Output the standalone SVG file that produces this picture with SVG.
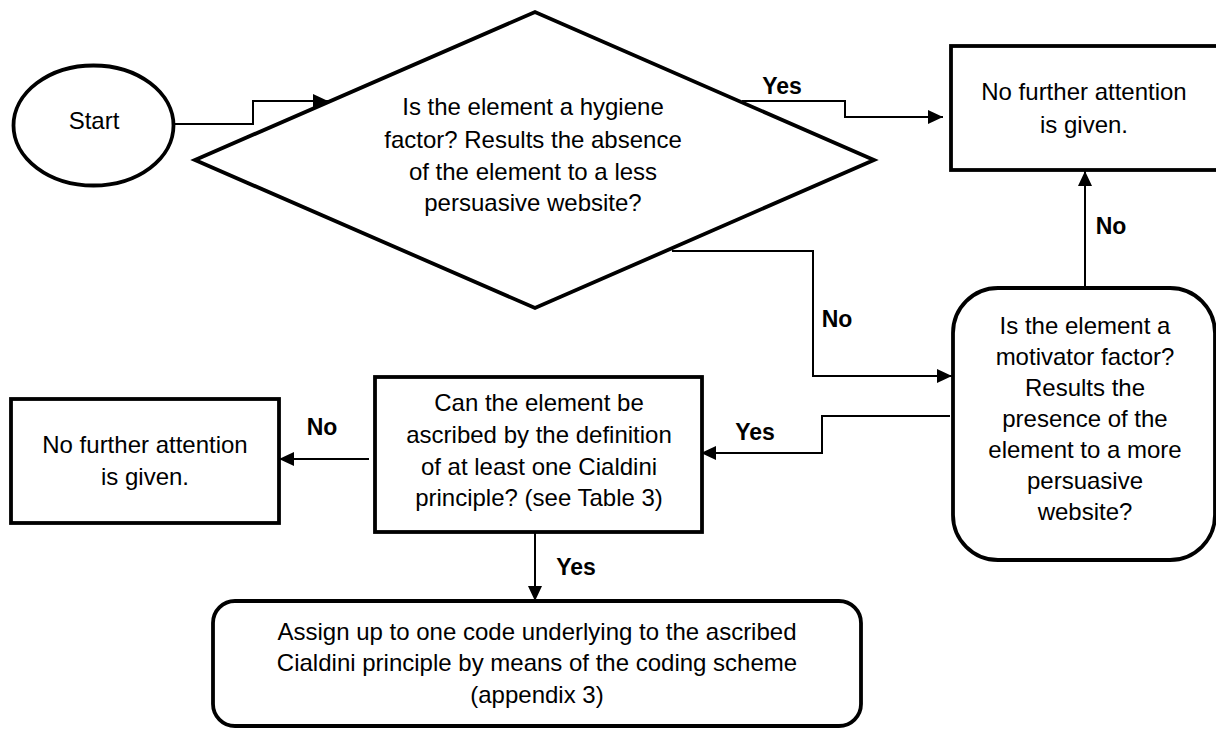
<svg xmlns="http://www.w3.org/2000/svg" width="1216" height="729" viewBox="0 0 1216 729">
<style>
.shape{fill:#fff;stroke:#000;stroke-width:3.8}
.conn{fill:none;stroke:#000;stroke-width:2}
.t{font-family:"Liberation Sans",Arial,sans-serif;font-size:24px;fill:#000;text-anchor:middle}
.lbl{font-family:"Liberation Sans",Arial,sans-serif;font-size:23px;font-weight:bold;fill:#000;text-anchor:middle}
</style>
<defs>
<marker id="arr" markerUnits="userSpaceOnUse" markerWidth="15" markerHeight="14" refX="15" refY="7" orient="auto">
<path d="M0,0 L15,7 L0,14 z" fill="#000"/>
</marker>
</defs>
<rect width="1216" height="729" fill="#fff"/>
<g id="start">
<ellipse class="shape" cx="93.5" cy="125.5" rx="80" ry="60"/>
<text class="t" x="94" y="129">Start</text>
</g>
<g id="hygiene">
<polygon class="shape" points="195,160 535,12 874,160 535,308"/>
<text class="t" x="533" y="115">Is the element a hygiene</text>
<text class="t" x="533" y="148">factor? Results the absence</text>
<text class="t" x="533" y="180">of the element to a less</text>
<text class="t" x="533" y="211">persuasive website?</text>
</g>
<g id="nofurther1">
<rect class="shape" x="951" y="46" width="268" height="124"/>
<text class="t" x="1084" y="100">No further attention</text>
<text class="t" x="1084" y="133">is given.</text>
</g>
<g id="motivator">
<rect class="shape" x="953" y="288" width="262" height="272" rx="45" ry="45"/>
<text class="t" x="1085" y="334">Is the element a</text>
<text class="t" x="1085" y="365">motivator factor?</text>
<text class="t" x="1085" y="396">Results the</text>
<text class="t" x="1085" y="427">presence of the</text>
<text class="t" x="1085" y="458">element to a more</text>
<text class="t" x="1085" y="489">persuasive</text>
<text class="t" x="1085" y="520">website?</text>
</g>
<g id="cialdini">
<rect class="shape" x="375" y="377" width="327" height="155"/>
<text class="t" x="539" y="411">Can the element be</text>
<text class="t" x="539" y="443">ascribed by the definition</text>
<text class="t" x="539" y="475">of at least one Cialdini</text>
<text class="t" x="539" y="506">principle? (see Table 3)</text>
</g>
<g id="nofurther2">
<rect class="shape" x="11" y="399" width="268" height="124"/>
<text class="t" x="145" y="453">No further attention</text>
<text class="t" x="145" y="485">is given.</text>
</g>
<g id="assign">
<rect class="shape" x="213" y="601" width="648" height="125" rx="22" ry="22"/>
<text class="t" x="537" y="640">Assign up to one code underlying to the ascribed</text>
<text class="t" x="537" y="671">Cialdini principle by means of the coding scheme</text>
<text class="t" x="537" y="703">(appendix 3)</text>
</g>
<g id="connectors">
<polyline class="conn" points="175,124 253,124 253,101 328,101" marker-end="url(#arr)"/>
<polyline class="conn" points="742,101 845,101 845,117 943,117" marker-end="url(#arr)"/>
<polyline class="conn" points="672,251 813,251 813,376 952,376" marker-end="url(#arr)"/>
<polyline class="conn" points="1085,288 1085,171" marker-end="url(#arr)"/>
<polyline class="conn" points="950,416 822,416 822,453 701,453" marker-end="url(#arr)"/>
<polyline class="conn" points="369,459 279,459" marker-end="url(#arr)"/>
<polyline class="conn" points="535,532 535,601" marker-end="url(#arr)"/>
<text class="lbl" x="782" y="94">Yes</text>
<text class="lbl" x="1111" y="234">No</text>
<text class="lbl" x="837" y="327">No</text>
<text class="lbl" x="322" y="435">No</text>
<text class="lbl" x="755" y="440">Yes</text>
<text class="lbl" x="576" y="575">Yes</text>
</g>
</svg>
